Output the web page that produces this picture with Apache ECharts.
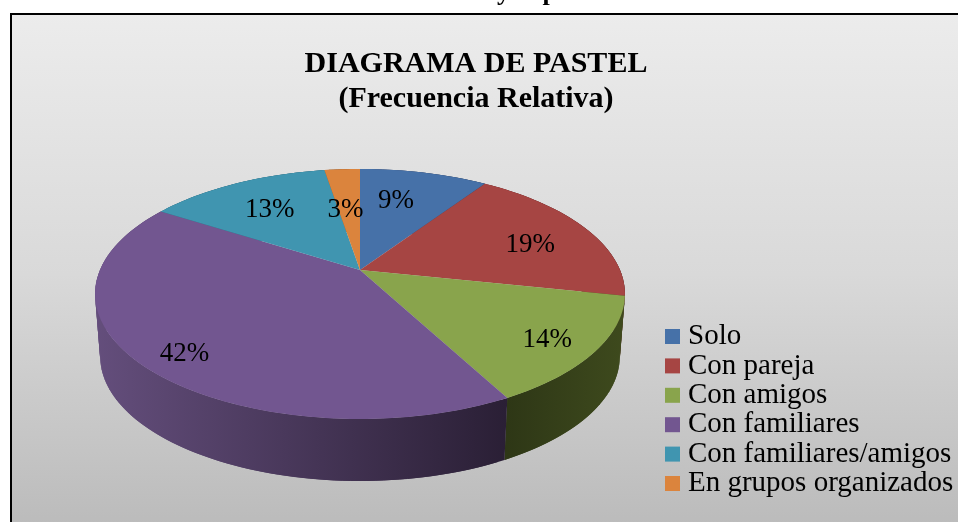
<!DOCTYPE html>
<html><head><meta charset="utf-8">
<style>html,body{margin:0;padding:0;background:#fff}#c{width:958px;height:522px}</style>
<script src="https://cdn.jsdelivr.net/npm/echarts@6/dist/echarts.min.js"></script>
</head><body><div id="c"></div>
<script>
const categories = ['Solo','Con pareja','Con amigos','Con familiares','Con familiares/amigos','En grupos organizados'];
const values = [9.4,18.9,13.9,41.8,13.4,2.6];
const colors = ['#4671a8','#a64543','#89a44c','#725690','#4095b0','#db843d'];
const labelReach = [0.65,0.75,0.8,0.83,0.7,0.55];
const labelNudgeX = [-8,-1,4,2,0,-4];
const labelNudgeY = [-2,7,6,8,3,0];
const sideStops = [['#4a5a80','#2c4060'],['#7a3030','#5a2020'],['#2e3716','#3e4a1d'],['#644e7c','#2a1f35'],['#2e6a7e','#2e6a7e'],['#9a5a28','#9a5a28']];
const SERIF = '"Liberation Serif","Times New Roman",serif';

const total = values.reduce((a,b)=>a+b,0);
const P = {cx:360, cy:270, A:260, B:120.4, k:0.192, cyB:332.5, AB:255, BB:120};
function project(f, r, cy, A, B){
  const t = f*2*Math.PI, u = r*Math.sin(t), v = -r*Math.cos(t), w = 1-P.k*v;
  return [P.cx+A*u/w, cy+B*v/w];
}
const top_ = (f,r=1)=>project(f,r,P.cy,P.A,P.B);
const low = f=>project(f,1,P.cyB,P.AB,P.BB);

function sliceRender(i){
  const start = values.slice(0,i).reduce((a,b)=>a+b,0)/total;
  return function(params, api){
    const frac = api.value(0)/total;
    const n = Math.max(8, Math.ceil(frac*240));
    const upper=[], lower=[];
    for(let j=0;j<=n;j++){
      const f=start+frac*j/n;
      upper.push(top_(f)); lower.push(low(f));
    }
    const xs = upper.map(p=>p[0]);
    const x0 = Math.min(...xs), x1 = Math.max(...xs);
    const fill = new echarts.graphic.LinearGradient(x0,0,x1,0,[{offset:0,color:sideStops[i][0]},{offset:1,color:sideStops[i][1]}],true);
    const strips=[];
    for(let j=0;j<n;j++){
      const e=Math.min(j+2,n);
      strips.push({type:'polygon',z2:1,shape:{points:[upper[j],upper[e],lower[e],lower[j]]},style:{fill}});
    }
    const mid = start+frac/2, lp = top_(mid,labelReach[i]);
    return {type:'group',children:strips.concat([
      {type:'polygon',z2:10,shape:{points:[[P.cx,P.cy]].concat(upper)},style:{fill:colors[i]}},
      {type:'text',z2:20,x:lp[0]+labelNudgeX[i],y:lp[1]+labelNudgeY[i],
       style:{text:Math.round(api.value(0)/total*100)+'%',fill:'#000',font:'27px '+SERIF,textAlign:'center',textVerticalAlign:'middle'}}
    ])};
  };
}

const chart = echarts.init(document.getElementById('c'),null,{renderer:'canvas'});
chart.setOption({
  animation:false,
  backgroundColor:'#fff',
  title:{
    text:'DIAGRAMA DE PASTEL\n(Frecuencia Relativa)',
    left:471, top:42, textAlign:'center',
    textStyle:{fontFamily:SERIF,fontWeight:'bold',fontSize:30,lineHeight:35,color:'#000'}
  },
  legend:{
    orient:'vertical', left:665, top:322, padding:0,
    icon:'rect', itemWidth:15, itemHeight:15, itemGap:0.4,
    data:categories,
    textStyle:{fontFamily:SERIF,fontSize:29,lineHeight:27,color:'#000',padding:[2,0,0,3]},
    selectedMode:false
  },
  graphic:[
    {type:'rect',z:-1,shape:{x:11,y:14,width:960,height:520},
     style:{stroke:'#000',lineWidth:2,fill:new echarts.graphic.LinearGradient(0,0,0,1,[
       {offset:0,color:'#ececec'},{offset:0.5,color:'#d9d9d9'},{offset:1,color:'#bababa'}])}},
    {type:'text',z:1,x:527,y:-7,style:{text:'y\u00a0\u00a0\u00a0\u00a0\u00a0p',fill:'#000',font:'bold 26px '+SERIF,textAlign:'center',textVerticalAlign:'middle'}}
  ],
  series:categories.map((name,i)=>({
    type:'custom',name,coordinateSystem:'none',silent:true,
    itemStyle:{color:colors[i]},
    renderItem:sliceRender(i),
    data:[[values[i]]]
  }))
});
</script></body></html>
